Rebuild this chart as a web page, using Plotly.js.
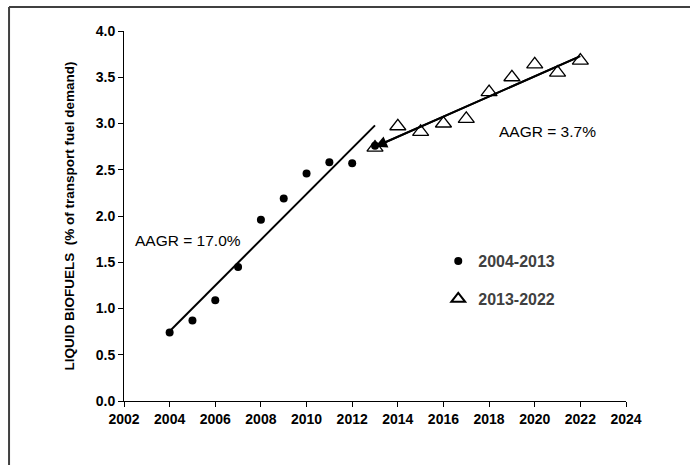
<!DOCTYPE html>
<html>
<head>
<meta charset="utf-8">
<script src="https://cdn.plot.ly/plotly-3.0.1.min.js"></script>
<style>html,body{margin:0;padding:0;background:#fff;}#chart{width:690px;height:465px;}</style>
</head>
<body>
<div id="chart"></div>
<script>
// Data
const yearsA = [2004, 2005, 2006, 2007, 2008, 2009, 2010, 2011, 2012, 2013];
const valuesA = [0.74, 0.87, 1.09, 1.45, 1.96, 2.19, 2.46, 2.58, 2.57, 2.76];
const yearsB = [2013, 2014, 2015, 2016, 2017, 2018, 2019, 2020, 2021, 2022];
const valuesB = [2.74, 2.97, 2.91, 3.00, 3.05, 3.34, 3.50, 3.64, 3.55, 3.68];
const seriesNames = ["2004-2013", "2013-2022"];
const annotationTexts = ["AAGR = 17.0%", "AAGR = 3.7%"];
const xTicks = [2002, 2004, 2006, 2008, 2010, 2012, 2014, 2016, 2018, 2020, 2022, 2024];
const yTicks = [0, 0.5, 1.0, 1.5, 2.0, 2.5, 3.0, 3.5, 4.0];
const yTitle = "LIQUID BIOFUELS  (% of transport fuel demand)";

// Least-squares trend lines computed from the data
function fit(xs, ys) {
  const n = xs.length;
  const mx = xs.reduce((a, b) => a + b, 0) / n;
  const my = ys.reduce((a, b) => a + b, 0) / n;
  let sxy = 0, sxx = 0;
  for (let i = 0; i < n; i++) { sxy += (xs[i] - mx) * (ys[i] - my); sxx += (xs[i] - mx) ** 2; }
  const b = sxy / sxx;
  const x0 = xs[0], x1 = xs[n - 1];
  return { x: [x0, x1], y: [my + b * (x0 - mx), my + b * (x1 - mx)] };
}
const fitA = fit(yearsA, valuesA);
const fitB = fit(yearsB, valuesB);

const FONT = "'Liberation Sans Narrow', 'Liberation Sans', Arial, sans-serif";
const TICKFONT = "'Liberation Sans', Arial, sans-serif";

const traces = [
  { x: fitA.x, y: fitA.y, mode: "lines", line: { color: "#000", width: 2 }, showlegend: false, hoverinfo: "skip" },
  { x: fitB.x, y: fitB.y, mode: "lines", line: { color: "#000", width: 2 }, showlegend: false, hoverinfo: "skip" },
  { x: yearsB, y: valuesB, mode: "markers", name: seriesNames[1], legend: "legend2",
    marker: { symbol: "triangle-up-open", size: 14, color: "#000", line: { width: 1.3, color: "#000" } } },
  { x: yearsA, y: valuesA, mode: "markers", name: seriesNames[0], legend: "legend",
    marker: { symbol: "circle", size: 8, color: "#000" } }
];

const legendFont = { family: FONT, size: 16, color: "#404040", weight: "bold" };

const layout = {
  width: 690, height: 465,
  margin: { l: 124, r: 64, t: 31, b: 64 },
  paper_bgcolor: "#fff", plot_bgcolor: "#fff",
  font: { family: FONT, color: "#000" },
  xaxis: {
    range: [2002, 2024], tickvals: xTicks, ticktext: xTicks.map(String),
    showgrid: false, zeroline: false, showline: true, linecolor: "#000", linewidth: 1,
    ticks: "outside", ticklen: 5, tickcolor: "#000",
    tickfont: { family: TICKFONT, size: 14, weight: "bold", color: "#000" }
  },
  yaxis: {
    range: [0, 4], tickvals: yTicks, ticktext: yTicks.map(v => v.toFixed(1)),
    showgrid: false, zeroline: false, showline: true, linecolor: "#000", linewidth: 1,
    ticks: "outside", ticklen: 5, tickcolor: "#000",
    tickfont: { family: TICKFONT, size: 14, weight: "bold", color: "#000" },
    title: { text: yTitle, standoff: 18, font: { family: FONT, size: 13.5, weight: "bold", color: "#000" } }
  },
  legend: { x: 0.626, y: 0.378, xanchor: "left", yanchor: "middle", font: legendFont, bgcolor: "rgba(0,0,0,0)" },
  legend2: { x: 0.626, y: 0.276, xanchor: "left", yanchor: "middle", font: legendFont, bgcolor: "rgba(0,0,0,0)", itemsizing: "constant" },
  annotations: [
    { x: 2004.8, y: 1.73, xref: "x", yref: "y", text: annotationTexts[0], showarrow: false,
      font: { family: FONT, size: 15.5, color: "#000" } },
    { x: 2020.54, y: 2.91, xref: "x", yref: "y", text: annotationTexts[1], showarrow: false,
      font: { family: FONT, size: 15.5, color: "#000" } },
    { x: fitB.x[0], y: fitB.y[0], ax: fitB.x[1], ay: fitB.y[1], xref: "x", yref: "y", axref: "x", ayref: "y",
      text: "", showarrow: true, arrowhead: 2, arrowsize: 1.2, arrowwidth: 2, arrowcolor: "#000" }
  ],
  shapes: [
    { type: "line", xref: "paper", yref: "paper", x0: -0.229, x1: 1.13, y0: 1.0649, y1: 1.0649, line: { color: "#404040", width: 2 } },
    { type: "line", xref: "paper", yref: "paper", x0: -0.229, x1: -0.229, y0: 1.0649, y1: -0.18, line: { color: "#404040", width: 2 } }
  ]
};

Plotly.newPlot("chart", traces, layout, { displayModeBar: false, staticPlot: true });
</script>
</body>
</html>
